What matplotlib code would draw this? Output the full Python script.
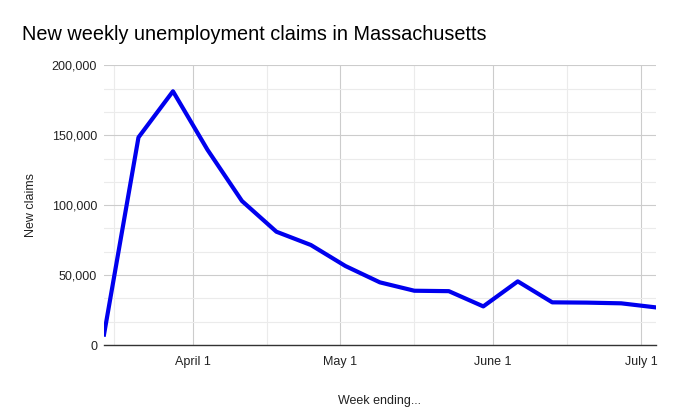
import datetime as dt

import matplotlib
matplotlib.use("Agg")
import matplotlib.pyplot as plt
from matplotlib.ticker import FuncFormatter, MultipleLocator

plt.rcParams["font.family"] = ["Liberation Sans", "DejaVu Sans"]

# week-ending dates (Saturdays) and new claims
week_ending = [
    "2020-03-14", "2020-03-21", "2020-03-28", "2020-04-04", "2020-04-11",
    "2020-04-18", "2020-04-25", "2020-05-02", "2020-05-09", "2020-05-16",
    "2020-05-23", "2020-05-30", "2020-06-06", "2020-06-13", "2020-06-20",
    "2020-06-27", "2020-07-04",
]
new_claims = [
    7449, 148452, 181423, 139647, 103000,
    81000, 71500, 56500, 44800, 38800,
    38500, 27600, 45500, 30500, 30300,
    29800, 26900,
]
month_ticks = ["2020-04-01", "2020-05-01", "2020-06-01", "2020-07-01"]
month_labels = ["April 1", "May 1", "June 1", "July 1"]
mid_month = ["2020-03-16", "2020-04-16", "2020-05-16", "2020-06-16"]

dates = [dt.datetime.strptime(d, "%Y-%m-%d") for d in week_ending]
ticks = [dt.datetime.strptime(d, "%Y-%m-%d") for d in month_ticks]
minor = [dt.datetime.strptime(d, "%Y-%m-%d") for d in mid_month]

fig = plt.figure(figsize=(6.77, 4.18), dpi=100)
ax = fig.add_axes([104 / 677, 1 - 345 / 418, (655.7 - 104) / 677, (345 - 65.3) / 418])

ax.plot(dates, new_claims, color="#0000ee", linewidth=3.0,
        solid_joinstyle="round", zorder=3)

ax.set_xlim(dates[0], dates[-1])
ax.set_ylim(0, 200000)

ax.yaxis.set_major_locator(MultipleLocator(50000))
ax.yaxis.set_minor_locator(MultipleLocator(50000 / 3))
ax.yaxis.set_major_formatter(FuncFormatter(lambda v, _: f"{int(v):,}"))
ax.set_xticks(ticks)
ax.set_xticklabels(month_labels)
ax.set_xticks(minor, minor=True)

ax.grid(True, which="major", color="#cccccc", linewidth=0.8)
ax.grid(True, which="minor", color="#ebebeb", linewidth=0.8)
ax.set_axisbelow(True)

for side in ("top", "right", "left"):
    ax.spines[side].set_visible(False)
ax.spines["bottom"].set_color("#333333")
ax.spines["bottom"].set_linewidth(1.0)

ax.tick_params(which="both", length=0)
ax.tick_params(axis="y", pad=5, labelsize=9, labelcolor="#222222")
ax.tick_params(axis="x", pad=8, labelsize=9, labelcolor="#222222")

ax.set_ylabel("New claims", fontsize=9, color="#222222", labelpad=10.5)
ax.set_xlabel("Week ending...", fontsize=9, color="#222222", labelpad=19.5)

fig.text(22 / 677, 1 - 34.5 / 418, "New weekly unemployment claims in Massachusetts",
         fontsize=14.3, color="#000000", va="center", ha="left")

fig.savefig("out.png", dpi=100)
